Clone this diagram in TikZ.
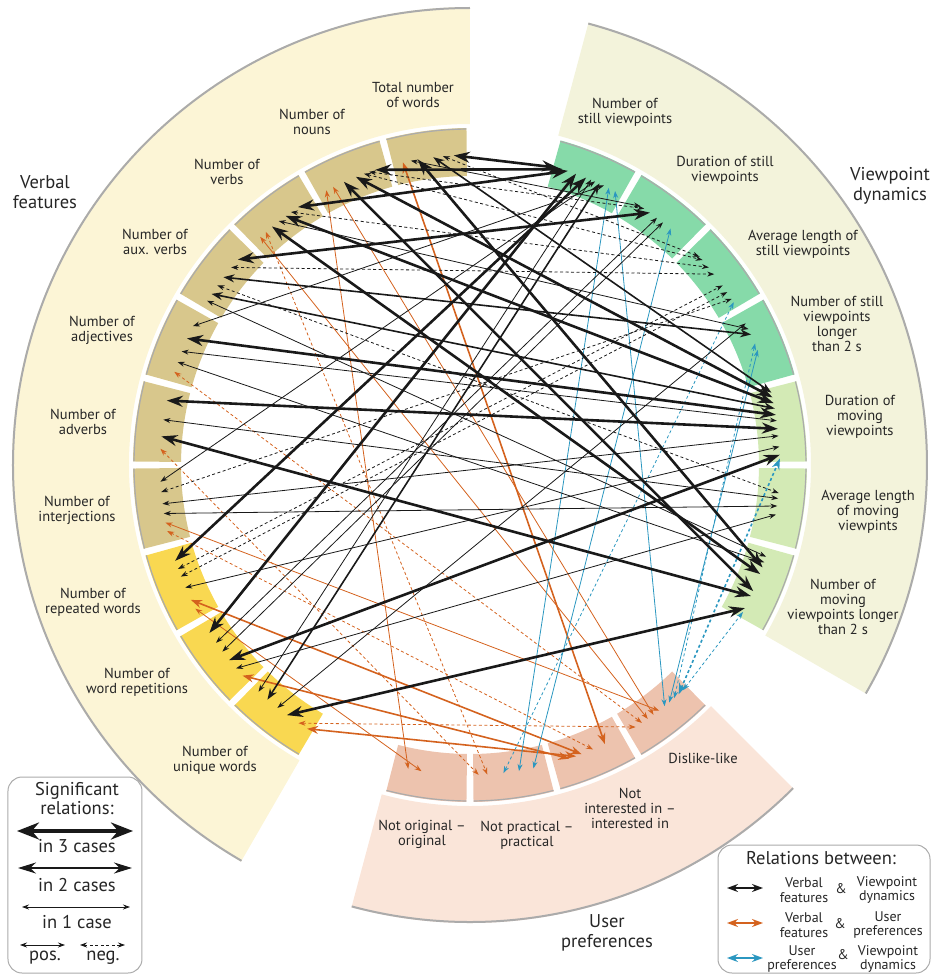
\documentclass[tikz,border=0pt]{standalone}
\usepackage{fontspec}
\setmainfont{PT Sans}
\usetikzlibrary{arrows.meta,calc}

\definecolor{bandverb}{HTML}{FCF5D6}
\definecolor{bandview}{HTML}{F3F3DB}
\definecolor{banduser}{HTML}{FAE5D9}
\definecolor{segverb}{HTML}{D8C78C}
\definecolor{segrep}{HTML}{F9D851}
\definecolor{segstill}{HTML}{86DAA9}
\definecolor{segmove}{HTML}{D3EAB5}
\definecolor{seguser}{HTML}{EDC3AE}
\definecolor{relorange}{HTML}{D4621E}
\definecolor{relblue}{HTML}{2B97C0}
\definecolor{rimgray}{HTML}{ABABAB}

\def\ringpart[#1](#2:#3:#4:#5){\fill[#1] (#2:#4) arc (#2:#3:#4) -- (#3:#5) arc (#3:#2:#5) -- cycle;}
\def\segment[#1](#2){\ringpart[#1]({#2-6.9}:{#2+6.9}:289:337)\draw[rimgray,line width=1.2pt] ({#2+6.9}:336) arc ({#2+6.9}:{#2-6.9}:336);}

\tikzset{
	rel1/.style={line width=0.8pt,{Stealth[length=7pt,width=5pt]}-{Stealth[length=7pt,width=5pt]}},
	rel2/.style={line width=1.6pt,{Stealth[length=11pt,width=8pt]}-{Stealth[length=11pt,width=8pt]}},
	rel3/.style={line width=2.6pt,{Stealth[length=16pt,width=11pt]}-{Stealth[length=16pt,width=11pt]}},
	neg/.style={dash pattern=on 3pt off 2.5pt},
	verbview/.style={color=black!90},
	verbuser/.style={color=relorange},
	userview/.style={color=relblue},
	seglabel/.style={align=center,inner sep=0pt,text=black!85,font=\fontsize{14.5}{15}\selectfont},
	grouplabel/.style={align=center,inner sep=0pt,text=black!85,font=\fontsize{18.5}{19.5}\selectfont},
	legtext/.style={align=center,inner sep=0pt,text=black!85,font=\fontsize{18.5}{19}\selectfont},
	legsmall/.style={align=center,inner sep=0pt,text=black!85,font=\fontsize{14}{14.5}\selectfont}
}

\begin{document}
\begin{tikzpicture}[x=1pt,y=1pt]
			%%%%% START %%%%%
			\useasboundingbox (-470,-510) rectangle (462,465);
			
			% outer bands
			\ringpart[bandverb](90:240:341:458)
			\ringpart[bandview](-30:75:341:458)
			\ringpart[banduser](255:315:341:458)
			\draw[rimgray,line width=2pt] (90:457) arc (90:240:457);
			\draw[rimgray,line width=2pt] (-30:457) arc (-30:75:457);
			\draw[rimgray,line width=2pt] (255:457) arc (255:315:457);
			
			% segments
			\foreach \a in {97.5,112.5,...,187.5} {\segment[segverb](\a)}
			\foreach \a in {202.5,217.5,232.5} {\segment[segrep](\a)}
			\foreach \a in {262.5,277.5,292.5,307.5} {\segment[seguser](\a)}
			\foreach \a in {67.5,52.5,37.5,22.5} {\segment[segstill](\a)}
			\foreach \a in {7.5,-7.5,-22.5} {\segment[segmove](\a)}
			
			% arrow ends
			\foreach \n/\a in {v1a/93,v1b/96.8,v1c/99.7,v1d/95,v1e/101,v1f/102.5,
				v2a/107.8,v2b/114,v2c/111.6,v2d/110,v2e/109,v2f/117.6,v2g/116.2,
				v3a/123.7,v3b/126.5,v3c/129.7,v3d/125.3,v3e/128.1,v3f/131.2,v3g/132.6,
				v4a/138.5,v4b/140.4,v4c/142.7,v4d/146.5,v4e/144.6,v4f/148,
				v5a/153.4,v5b/155.9,v5c/158.5,v5d/160.6,v5e/162.5,
				v6a/168,v6b/171.6,v6c/174.7,v6d/177,
				v7a/183.1,v7b/185,v7c/187.2,v7d/189,v7e/190.7,v7f/192.3,
				v8a/198,v8b/199.6,v8c/201.1,v8d/203.3,v8e/205.8,v8f/207.6,
				v9a/212.8,v9b/215,v9c/217,v9d/219,v9e/221,v9f/222.8,
				v10a/227,v10b/229.2,v10c/231.6,v10d/233.8,v10e/236.4,v10f/238.3,
				u1a/258.5,u1b/261,
				u2a/273.2,u2b/271.6,u2c/276.2,u2d/279.1,u2e/281.8,
				u3a/295.8,u3b/293.4,u3c/291.1,u3d/288.7,u3e/290,
				u4a/306.3,u4b/305,u4c/303.7,u4d/307.6,u4e/302.3,u4f/308.9,u4g/310,u4h/311.2,u4i/312.3,u4j/313.4,
				p1a/73.5,p1b/72.6,p1c/71.6,p1d/64.4,p1e/66.2,p1f/68,p1g/70,p1h/67,p1i/65.3,p1j/63.4,p1k/62.1,
				p2a/56.6,p2b/55.8,p2c/54.5,p2d/52.9,p2e/51.5,p2f/49.7,
				p3a/42.2,p3b/41.4,p3c/39.6,p3d/38,p3e/32.4,p3f/35.4,p3g/33.9,p3h/31.7,
				p4a/26,p4b/24.9,p4c/27.2,p4d/21.8,p4e/23.1,
				p5a/13.5,p5b/12.6,p5c/11.5,p5d/10.5,p5e/9.3,p5f/8.2,p5g/6.7,p5h/5.4,p5i/3.4,p5j/1.9,p5k/1.2,
				p6a/-5.2,p6b/-6.2,p6c/-7.6,p6d/-9.2,
				p7a/-19.3,p7b/-24,p7c/-20.6,p7d/-17.2,p7e/-18.3,p7f/-25,p7g/-27.5,p7h/-28.3}
				{\coordinate (\n) at (\a:310);}
			
			% verbal features - user preferences
			\draw[verbuser,rel2] (v1f) -- (u3a);
			\draw[verbuser,rel1] (v2f) -- (u1a);
			\draw[verbuser,rel1] (v2g) -- (u4a);
			\draw[verbuser,rel1,neg] (v3f) -- (u2a);
			\draw[verbuser,rel1] (v3g) -- (u4b);
			\draw[verbuser,rel1,neg] (v5e) -- (u4c);
			\draw[verbuser,rel1,neg] (v6d) -- (u2b);
			\draw[verbuser,rel1] (v7e) -- (u4d);
			\draw[verbuser,rel1,neg] (v7f) -- (u3b);
			\draw[verbuser,rel2] (v8e) -- (u3c);
			\draw[verbuser,rel1] (v8f) -- (u1b);
			\draw[verbuser,rel2] (v9f) -- (u3d);
			\draw[verbuser,rel1,neg] (v10e) -- (u4e);
			\draw[verbuser,rel2] (v10f) -- (u3e);
			
			% user preferences - viewpoint dynamics
			\draw[userview,rel1,neg] (u2c) -- (p3h);
			\draw[userview,rel1] (u2d) -- (p1j);
			\draw[userview,rel1] (u2e) -- (p2f);
			\draw[userview,rel1] (u4f) -- (p1k);
			\draw[userview,rel1] (u4g) -- (p4d);
			\draw[userview,rel1,neg] (u4h) -- (p4e);
			\draw[userview,rel2,neg] (u4i) -- (p5k);
			\draw[userview,rel1,neg] (u4j) -- (p7h);
			
			% verbal features - viewpoint dynamics
			\draw[verbview,rel3] (v1a) -- (p1a);
			\draw[verbview,rel3] (v2a) -- (p1b);
			\draw[verbview,rel3] (v3a) -- (p1c);
			\draw[verbview,rel2] (v1b) -- (p5a);
			\draw[verbview,rel3] (v1c) -- (p7a);
			\draw[verbview,rel1,neg] (v1d) -- (p3a);
			\draw[verbview,rel1] (v1e) -- (p2a);
			\draw[verbview,rel3] (v2b) -- (p7b);
			\draw[verbview,rel3] (v2c) -- (p5b);
			\draw[verbview,rel1,neg] (v2d) -- (p3b);
			\draw[verbview,rel1,neg] (v2e) -- (p2b);
			\draw[verbview,rel3] (v3b) -- (p5c);
			\draw[verbview,rel3] (v3c) -- (p7c);
			\draw[verbview,rel1,neg] (v3d) -- (p3c);
			\draw[verbview,rel1] (v3e) -- (p4a);
			\draw[verbview,rel3] (v4a) -- (p2c);
			\draw[verbview,rel1,neg] (v4b) -- (p3d);
			\draw[verbview,rel2] (v4c) -- (p4b);
			\draw[verbview,rel2] (v4d) -- (p5d);
			\draw[verbview,rel1,neg] (v4e) -- (p6a);
			\draw[verbview,rel1] (v4f) -- (p7d);
			\draw[verbview,rel1] (v5a) -- (p1d);
			\draw[verbview,rel3] (v5b) -- (p5e);
			\draw[verbview,rel1] (v5c) -- (p5f);
			\draw[verbview,rel1] (v5d) -- (p7e);
			\draw[verbview,rel3] (v6a) -- (p5g);
			\draw[verbview,rel1] (v6b) -- (p6b);
			\draw[verbview,rel3] (v6c) -- (p7f);
			\draw[verbview,rel1] (v7a) -- (p1e);
			\draw[verbview,rel1,neg] (v7b) -- (p3e);
			\draw[verbview,rel1] (v7c) -- (p5h);
			\draw[verbview,rel1] (v7d) -- (p6c);
			\draw[verbview,rel3] (v8a) -- (p1f);
			\draw[verbview,rel1,neg] (v8b) -- (p3f);
			\draw[verbview,rel1,neg] (v8c) -- (p3g);
			\draw[verbview,rel1] (v8d) -- (p5i);
			\draw[verbview,rel3] (v9a) -- (p1g);
			\draw[verbview,rel1] (v9b) -- (p2d);
			\draw[verbview,rel1] (v9c) -- (p2e);
			\draw[verbview,rel3] (v9d) -- (p5j);
			\draw[verbview,rel1] (v9e) -- (p6d);
			\draw[verbview,rel1] (v10a) -- (p1h);
			\draw[verbview,rel2] (v10b) -- (p1i);
			\draw[verbview,rel1] (v10c) -- (p4c);
			\draw[verbview,rel3] (v10d) -- (p7g);
			
			% segment labels
			\node[seglabel] (lv1) at (-57,370) {Total number\\of words};
			\node[seglabel] (lv2) at (-158,343) {Number of\\nouns};
			\node[seglabel] (lv3) at (-243,293) {Number of\\verbs};
			\node[seglabel] (lv4) at (-315,223) {Number of\\aux. verbs};
			\node[seglabel] (lv5) at (-368,135) {Number of\\adjectives};
			\node[seglabel] (lv6) at (-387,43) {Number of\\adverbs};
			\node[seglabel] (lv7) at (-393,-45) {Number of\\interjections};
			\node[seglabel] (lv8) at (-377,-137) {Number of\\repeated words};
			\node[seglabel] (lv9) at (-333,-217) {Number of\\word repetitions};
			\node[seglabel] (lv10) at (-255,-295) {Number of\\unique words};
			\node[seglabel] (lu1) at (-48,-369) {Not original --\\original};
			\node[seglabel] (lu2) at (57,-370) {Not practical --\\practical};
			\node[seglabel] (lu3) at (160,-343) {Not\\interested in --\\interested in};
			\node[seglabel] (lu4) at (233,-293) {Dislike-like};
			\node[seglabel] (lp1) at (155,353) {Number of\\still viewpoints};
			\node[seglabel] (lp2) at (255,295) {Duration of still\\viewpoints};
			\node[seglabel] (lp3) at (333,221) {Average length of\\still viewpoints};
			\node[seglabel] (lp4) at (367,141) {Number of still\\viewpoints\\longer\\than 2 s};
			\node[seglabel] (lp5) at (390,48) {Duration of\\moving\\viewpoints};
			\node[seglabel] (lp6) at (398,-47) {Average length\\of moving\\viewpints};
			\node[seglabel] (lp7) at (373,-142) {Number of\\moving\\viewpoints longer\\than 2 s};
			
			% group labels
			\node[grouplabel] (gverb) at (-425,273) {Verbal\\features};
			\node[grouplabel] (gview) at (420,279) {Viewpoint\\dynamics};
			\node[grouplabel] (guser) at (137,-468) {User\\preferences};
			
			% legend: significant relations
			\draw[rimgray,line width=1pt,rounded corners=14pt,fill=white] (-462,-312) rectangle (-328,-508);
			\node[legtext] (sig) at (-393,-334) {Significant\\relations:};
			\coordinate (s3a) at (-453,-366); \coordinate (s3b) at (-337,-366);
			\coordinate (s2a) at (-452,-403); \coordinate (s2b) at (-338,-403);
			\coordinate (s1a) at (-448,-442); \coordinate (s1b) at (-340,-442);
			\coordinate (spa) at (-450,-480); \coordinate (spb) at (-405,-480);
			\coordinate (sna) at (-390,-480); \coordinate (snb) at (-345,-480);
			\draw[verbview,line width=3.8pt,{Stealth[length=22pt,width=17pt]}-{Stealth[length=22pt,width=17pt]}] (s3a) -- (s3b);
			\node[legtext] (sig3) at (-393,-381) {in 3 cases};
			\draw[verbview,line width=2.2pt,{Stealth[length=18pt,width=11pt]}-{Stealth[length=18pt,width=11pt]}] (s2a) -- (s2b);
			\node[legtext] (sig2) at (-393,-420) {in 2 cases};
			\draw[verbview,rel1] (s1a) -- (s1b);
			\node[legtext] (sig1) at (-393,-457) {in 1 case};
			\draw[verbview,rel1] (spa) -- (spb);
			\draw[verbview,rel1,neg] (sna) -- (snb);
			\node[legtext] (spos) at (-425,-493) {pos.};
			\node[legtext] (sneg) at (-367,-493) {neg.};
			
			% legend: relations between
			\draw[rimgray,line width=1pt,rounded corners=14pt,fill=white] (248,-380) rectangle (460,-508);
			\node[legtext] (relt) at (351,-393) {Relations between:};
			\coordinate (r1a) at (257,-423); \coordinate (r1b) at (293,-423);
			\coordinate (r2a) at (257,-458); \coordinate (r2b) at (293,-458);
			\coordinate (r3a) at (257,-493); \coordinate (r3b) at (293,-493);
			\draw[verbview,rel2] (r1a) -- (r1b);
			\draw[verbuser,rel2] (r2a) -- (r2b);
			\draw[userview,rel2] (r3a) -- (r3b);
			\node[legsmall] (r1l) at (334,-425) {Verbal\\features};
			\node[legsmall] (r1m) at (371,-424) {\&};
			\node[legsmall] (r1r) at (417,-425) {Viewpoint\\dynamics};
			\node[legsmall] (r2l) at (334,-460) {Verbal\\features};
			\node[legsmall] (r2m) at (370,-459) {\&};
			\node[legsmall] (r2r) at (418,-460) {User\\preferences};
			\node[legsmall] (r3l) at (332,-494) {User\\preferences};
			\node[legsmall] (r3m) at (373,-490) {\&};
			\node[legsmall] (r3r) at (418,-494) {Viewpoint\\dynamics};
			
			%%%%% END %%%%%
\end{tikzpicture}
\end{document}
